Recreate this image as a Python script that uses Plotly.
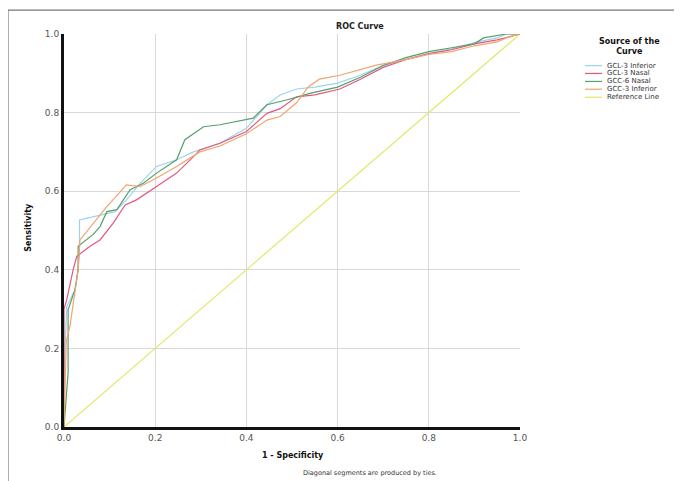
import plotly.graph_objects as go

# ---- data ----
series_names = ["GCL-3 Inferior", "GCL-3 Nasal", "GCC-6 Nasal", "GCC-3 Inferior"]
series_colors = ["#9fd3ea", "#e4577f", "#55a06c", "#f2a46e"]
ref_name = "Reference Line"
ref_color = "#e6e66a"

gcl3_inf_fpr = [0, 0, 0.006, 0.024, 0.028, 0.034, 0.034, 0.086, 0.112, 0.137, 0.167, 0.203, 0.247, 0.284,
                0.342, 0.40, 0.445, 0.474, 0.51, 0.55, 0.60, 0.65, 0.70, 0.75, 0.80, 0.85, 0.90, 0.95, 0.97, 1.0]
gcl3_inf_tpr = [0, 0.14, 0.307, 0.349, 0.375, 0.443, 0.527, 0.54, 0.548, 0.578, 0.62, 0.663, 0.68, 0.70,
                0.722, 0.76, 0.82, 0.845, 0.86, 0.865, 0.875, 0.895, 0.92, 0.935, 0.95, 0.962, 0.978, 0.99, 1.0, 1.0]

gcl3_nas_fpr = [0, 0, 0.006, 0.02, 0.028, 0.057, 0.079, 0.108, 0.134, 0.159, 0.203, 0.247, 0.284, 0.298,
                0.342, 0.40, 0.445, 0.474, 0.51, 0.55, 0.605, 0.65, 0.70, 0.75, 0.80, 0.85, 0.90, 0.95, 1.0]
gcl3_nas_tpr = [0, 0.30, 0.324, 0.40, 0.434, 0.46, 0.476, 0.519, 0.565, 0.578, 0.612, 0.646, 0.688, 0.705,
                0.722, 0.752, 0.798, 0.81, 0.84, 0.845, 0.86, 0.885, 0.915, 0.935, 0.95, 0.96, 0.975, 0.985, 1.0]

gcc6_nas_fpr = [0, 0.009, 0.009, 0.024, 0.031, 0.031, 0.064, 0.079, 0.094, 0.116, 0.145, 0.174, 0.203, 0.247,
                0.265, 0.306, 0.342, 0.415, 0.445, 0.488, 0.539, 0.60, 0.65, 0.70, 0.75, 0.80, 0.85, 0.90,
                0.92, 0.97, 1.0]
gcc6_nas_tpr = [0, 0.138, 0.298, 0.349, 0.40, 0.46, 0.49, 0.51, 0.548, 0.553, 0.604, 0.62, 0.646, 0.68,
                0.731, 0.764, 0.769, 0.786, 0.82, 0.832, 0.849, 0.865, 0.89, 0.92, 0.94, 0.955, 0.965, 0.975,
                0.99, 1.0, 1.0]

gcc3_inf_fpr = [0, 0.005, 0.013, 0.024, 0.031, 0.035, 0.094, 0.137, 0.167, 0.196, 0.247, 0.298, 0.342,
                0.40, 0.445, 0.474, 0.51, 0.536, 0.56, 0.605, 0.65, 0.685, 0.75, 0.80, 0.85, 0.90, 0.95, 0.97, 1.0]
gcc3_inf_tpr = [0, 0.22, 0.256, 0.34, 0.40, 0.476, 0.561, 0.616, 0.612, 0.629, 0.663, 0.70, 0.715,
                0.746, 0.781, 0.79, 0.825, 0.866, 0.885, 0.895, 0.91, 0.921, 0.935, 0.948, 0.955, 0.97, 0.98, 0.99, 1.0]

ref_x = [0, 1]
ref_y = [0, 1]

tick_vals = [0, 0.2, 0.4, 0.6, 0.8, 1.0]
tick_text = ["0.0", "0.2", "0.4", "0.6", "0.8", "1.0"]

all_fpr = [gcl3_inf_fpr, gcl3_nas_fpr, gcc6_nas_fpr, gcc3_inf_fpr]
all_tpr = [gcl3_inf_tpr, gcl3_nas_tpr, gcc6_nas_tpr, gcc3_inf_tpr]

FONT = "DejaVu Sans"

fig = go.Figure()
fig.add_trace(go.Scatter(x=ref_x, y=ref_y, mode="lines", name=ref_name,
                         line=dict(color=ref_color, width=1.2), showlegend=False))
for name, col, fx, ty in zip(series_names, series_colors, all_fpr, all_tpr):
    fig.add_trace(go.Scatter(x=fx, y=ty, mode="lines", name=name,
                             line=dict(color=col, width=1.2), showlegend=False))

# the page places the figure 8px in from the window's top-left corner
OFF = 8
W, H = 682 - OFF, 481 - OFF
# plot area in window pixels (reference)
L, R, T, B = 64, 520, 34, 427.5


def px(x):
    return (x - L) / (R - L)


def py(y):
    return (B - y) / (B - T)


shapes = []
annotations = []
# outer frame (top + left edges)
shapes.append(dict(type="line", xref="paper", yref="paper", x0=px(8), x1=px(690), y0=py(10), y1=py(10),
                   line=dict(color="#777777", width=1.2)))
shapes.append(dict(type="line", xref="paper", yref="paper", x0=px(8), x1=px(8), y0=py(10), y1=py(490),
                   line=dict(color="#777777", width=1.2)))

# manual legend
annotations.append(dict(text="<b>Source of the<br>Curve</b>", xref="paper", yref="paper",
                        x=px(629), y=py(47), xanchor="center", yanchor="middle", showarrow=False,
                        font=dict(family=FONT, size=8, color="#111111")))
leg_names = series_names + [ref_name]
leg_cols = series_colors + [ref_color]
leg_y = [65.7, 73.5, 81.5, 89.3, 97.3]
for nm, col, yy in zip(leg_names, leg_cols, leg_y):
    shapes.append(dict(type="line", xref="paper", yref="paper", x0=px(585), x1=px(602),
                       y0=py(yy), y1=py(yy), line=dict(color=col, width=1.2)))
    annotations.append(dict(text=nm, xref="paper", yref="paper", x=px(605), y=py(yy),
                            xanchor="left", yanchor="middle", showarrow=False,
                            font=dict(family=FONT, size=7, color="#333333")))

annotations.append(dict(text="<b>ROC Curve</b>", xref="paper", yref="paper", x=px(360), y=py(26),
                        xanchor="center", yanchor="middle", showarrow=False,
                        font=dict(family=FONT, size=8, color="#222222")))
annotations.append(dict(text="<b>1 - Specificity</b>", xref="paper", yref="paper", x=px(293), y=py(456),
                        xanchor="center", yanchor="middle", showarrow=False,
                        font=dict(family=FONT, size=8, color="#111111")))
annotations.append(dict(text="<b>Sensitivity</b>", xref="paper", yref="paper", x=px(29), y=py(228),
                        xanchor="center", yanchor="middle", showarrow=False, textangle=-90,
                        font=dict(family=FONT, size=8, color="#111111")))
annotations.append(dict(text="Diagonal segments are produced by ties.", xref="paper", yref="paper",
                        x=px(370), y=py(474), xanchor="center", yanchor="middle", showarrow=False,
                        font=dict(family=FONT, size=6.5, color="#333333")))

fig.update_layout(
    width=W, height=H,
    margin=dict(l=L - OFF, r=W - (R - OFF), t=T - OFF, b=H - (B - OFF), pad=0),
    paper_bgcolor="white", plot_bgcolor="white",
    showlegend=False,
    shapes=shapes, annotations=annotations,
    font=dict(family=FONT),
)
fig.update_xaxes(range=[0, 1], tickvals=tick_vals, ticktext=tick_text, showgrid=True,
                 gridcolor="#d9d9d9", gridwidth=1, zeroline=False, showline=True, linecolor="#111111",
                 linewidth=3, ticks="", tickfont=dict(family=FONT, size=9, color="#555555"),
                 fixedrange=True)
fig.update_yaxes(range=[0, 1], tickvals=tick_vals, ticktext=tick_text, showgrid=True,
                 gridcolor="#d9d9d9", gridwidth=1, zeroline=False, showline=True, linecolor="#111111",
                 linewidth=3, ticks="", tickfont=dict(family=FONT, size=9, color="#555555"),
                 fixedrange=True)

fig.write_html("out.html")
